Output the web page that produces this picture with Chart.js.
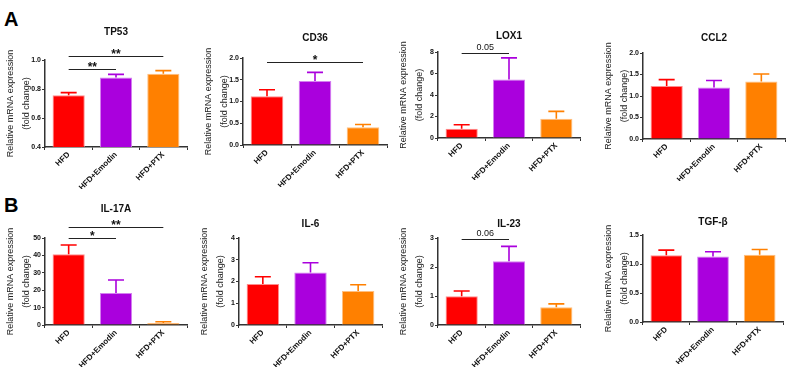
<!DOCTYPE html>
<html>
<head>
<meta charset="utf-8">
<script src="https://cdn.jsdelivr.net/npm/chart.js@4.4.1/dist/chart.umd.min.js"></script>
<style>
  body { margin: 0; background: #fff; width: 787px; height: 369px; position: relative; overflow: hidden;
         font-family: "Liberation Sans", Arial, sans-serif; }
  canvas { position: absolute; }
  .tag { position: absolute; font-weight: bold; font-size: 20px; line-height: 20px; color: #000; }
</style>
</head>
<body>
<div class="tag" style="left:4px;top:9px">A</div>
<div class="tag" style="left:4px;top:195px">B</div>
<script>
// groups shared by every panel
var groups = ['HFD', 'HFD+Emodin', 'HFD+PTX'];
var barColors = ['#ff0000', '#aa00dd', '#ff8000'];
var edgeColors = ['#ff8c8c', '#d480f0', '#ffbf80'];

// mean and SEM
var tp53Mean = [0.757, 0.88, 0.905];
var tp53Sem = [0.018, 0.021, 0.022];
var cd36Mean = [1.12, 1.47, 0.41];
var cd36Sem = [0.15, 0.20, 0.06];
var lox1Mean = [0.86, 5.45, 1.8];
var lox1Sem = [0.37, 2.0, 0.68];
var ccl2Mean = [1.23, 1.20, 1.34];
var ccl2Sem = [0.15, 0.16, 0.17];
var il17aMean = [40.6, 18.4, 1.2];
var il17aSem = [5.4, 7.5, 0.7];
var il6Mean = [1.88, 2.41, 1.56];
var il6Sem = [0.34, 0.45, 0.29];
var il23Mean = [0.99, 2.2, 0.61];
var il23Sem = [0.18, 0.51, 0.12];
var tgfbMean = [1.15, 1.13, 1.16];
var tgfbSem = [0.09, 0.08, 0.09];

// y tick labels
var tp53Ticks = ['0.4', '0.6', '0.8', '1.0'];
var cd36Ticks = ['0.0', '0.5', '1.0', '1.5', '2.0'];
var lox1Ticks = ['0', '2', '4', '6', '8'];
var ccl2Ticks = ['0.0', '0.5', '1.0', '1.5', '2.0'];
var il17aTicks = ['0', '10', '20', '30', '40', '50'];
var il6Ticks = ['0', '1', '2', '3', '4'];
var il23Ticks = ['0', '1', '2', '3'];
var tgfbTicks = ['0.0', '0.5', '1.0', '1.5'];

// significance brackets: [from, to, value, label]
var tp53Sig = [[0, 1, 0.936, '**'], [0, 2, 1.027, '**']];
var cd36Sig = [[0, 2, 1.91, '*']];
var lox1Sig = [[0, 1, 7.88, '0.05']];
var il17aSig = [[0, 1, 49.8, '*'], [0, 2, 56.5, '**']];
var il23Sig = [[0, 1, 2.97, '0.06']];

var FONT = '"Liberation Sans", Arial, sans-serif';

var panels = [
  { title: 'TP53', mean: tp53Mean, sem: tp53Sem, ticks: tp53Ticks, sig: tp53Sig, box: [45, 187, 60, 147], titleY: 32 },
  { title: 'CD36', mean: cd36Mean, sem: cd36Sem, ticks: cd36Ticks, sig: cd36Sig, box: [243, 387, 58, 145], titleY: 38 },
  { title: 'LOX1', mean: lox1Mean, sem: lox1Sem, ticks: lox1Ticks, sig: lox1Sig, box: [438, 580, 52, 138], titleY: 36 },
  { title: 'CCL2', mean: ccl2Mean, sem: ccl2Sem, ticks: ccl2Ticks, sig: [], box: [643, 785, 53, 139], titleY: 38 },
  { title: 'IL-17A', mean: il17aMean, sem: il17aSem, ticks: il17aTicks, sig: il17aSig, box: [45, 187, 238, 325], titleY: 209 },
  { title: 'IL-6', mean: il6Mean, sem: il6Sem, ticks: il6Ticks, sig: [], box: [239, 382, 238, 325], titleY: 224 },
  { title: 'IL-23', mean: il23Mean, sem: il23Sem, ticks: il23Ticks, sig: il23Sig, box: [438, 580, 238, 325], titleY: 224 },
  { title: 'TGF-\u03b2', mean: tgfbMean, sem: tgfbSem, ticks: tgfbTicks, sig: [], box: [643, 783, 235, 322], titleY: 222 }
];

var errorBars = {
  id: 'errorBars',
  afterDatasetsDraw: function (chart) {
    var ctx = chart.ctx, y = chart.scales.y;
    var ds = chart.data.datasets[0];
    ctx.save();
    ctx.lineWidth = 1.6;
    chart.getDatasetMeta(0).data.forEach(function (bar, i) {
      var top = y.getPixelForValue(ds.data[i] + ds.sem[i]);
      ctx.strokeStyle = barColors[i];
      ctx.beginPath();
      ctx.moveTo(bar.x, bar.y);
      ctx.lineTo(bar.x, top);
      ctx.moveTo(bar.x - 8, top);
      ctx.lineTo(bar.x + 8, top);
      ctx.stroke();
    });
    ctx.restore();
  }
};

var extras = {
  id: 'extras',
  afterDraw: function (chart, args, opts) {
    var ctx = chart.ctx, x = chart.scales.x, y = chart.scales.y;
    var area = chart.chartArea;
    ctx.save();
    // panel title
    ctx.fillStyle = '#111';
    ctx.font = 'bold 10px ' + FONT;
    ctx.textAlign = 'center';
    ctx.textBaseline = 'middle';
    ctx.fillText(opts.title, (area.left + area.right) / 2, opts.titleY);
    // brackets
    ctx.strokeStyle = '#222';
    ctx.lineWidth = 1;
    opts.sig.forEach(function (s) {
      var py = Math.round(y.getPixelForValue(s[2])) + 0.5;
      ctx.beginPath();
      ctx.moveTo(x.getPixelForValue(s[0]), py);
      ctx.lineTo(x.getPixelForValue(s[1]), py);
      ctx.stroke();
      var mid = (x.getPixelForValue(s[0]) + x.getPixelForValue(s[1])) / 2;
      ctx.textBaseline = 'bottom';
      if (s[3].indexOf('*') >= 0) {
        ctx.font = 'bold 12px ' + FONT;
        ctx.fillText(s[3], mid, py + 4);
      } else {
        ctx.font = '9px ' + FONT;
        ctx.fillText(s[3], mid, py - 1);
      }
    });
    ctx.restore();
  }
};

var TOP = 50, BOTTOM = 42, AXW = 45;

panels.forEach(function (p) {
  var x0 = p.box[0], x1 = p.box[1], y0 = p.box[2], y1 = p.box[3];
  var left = x0 - AXW, top = y0 - TOP;
  var w = Math.min(x1 + 2, 787) - left;
  var h = (y1 - y0) + TOP + BOTTOM;
  var cv = document.createElement('canvas');
  cv.style.left = left + 'px';
  cv.style.top = top + 'px';
  cv.style.width = w + 'px';
  cv.style.height = h + 'px';
  cv.width = w; cv.height = h;
  document.body.appendChild(cv);

  var yMin = parseFloat(p.ticks[0]);
  var yMax = parseFloat(p.ticks[p.ticks.length - 1]);
  var step = parseFloat(p.ticks[1]) - yMin;

  new Chart(cv.getContext('2d'), {
    type: 'bar',
    data: {
      labels: groups,
      datasets: [{
        data: p.mean,
        sem: p.sem,
        backgroundColor: barColors,
        borderColor: edgeColors,
        borderWidth: 1,
        borderSkipped: 'bottom',
        barPercentage: 0.68,
        categoryPercentage: 1.0
      }]
    },
    options: {
      responsive: false,
      animation: false,
      layout: { padding: { top: TOP, right: w - (x1 - left), bottom: 0, left: 0 } },
      plugins: {
        legend: { display: false },
        tooltip: { enabled: false },
        extras: { title: p.title, titleY: p.titleY - top, sig: p.sig }
      },
      scales: {
        x: {
          afterFit: function (s) { s.height = BOTTOM; },
          grid: { display: true, drawOnChartArea: false, tickLength: 3, color: '#333', lineWidth: 1 },
          border: { color: '#333', width: 1.5 },
          ticks: {
            color: '#111', autoSkip: false, minRotation: 45, maxRotation: 45, padding: 0,
            font: { family: FONT, size: 8, weight: 'bold' }
          }
        },
        y: {
          min: yMin, max: yMax,
          afterFit: function (s) { s.width = AXW; },
          grid: { display: true, drawOnChartArea: false, tickLength: 3, color: '#333', lineWidth: 1 },
          border: { color: '#333', width: 1.5 },
          ticks: {
            stepSize: step, color: '#111', padding: 1,
            font: { family: FONT, size: 7, weight: 'bold' },
            callback: function (v, i) { return p.ticks[i]; }
          },
          title: {
            display: true,
            text: ['Relative mRNA expression', '(fold change)'],
            color: '#222',
            font: { family: FONT, size: 9, lineHeight: 1.75 },
            padding: { top: 2.5, bottom: 0 }
          }
        }
      }
    },
    plugins: [errorBars, extras]
  });
});
</script>
</body>
</html>
